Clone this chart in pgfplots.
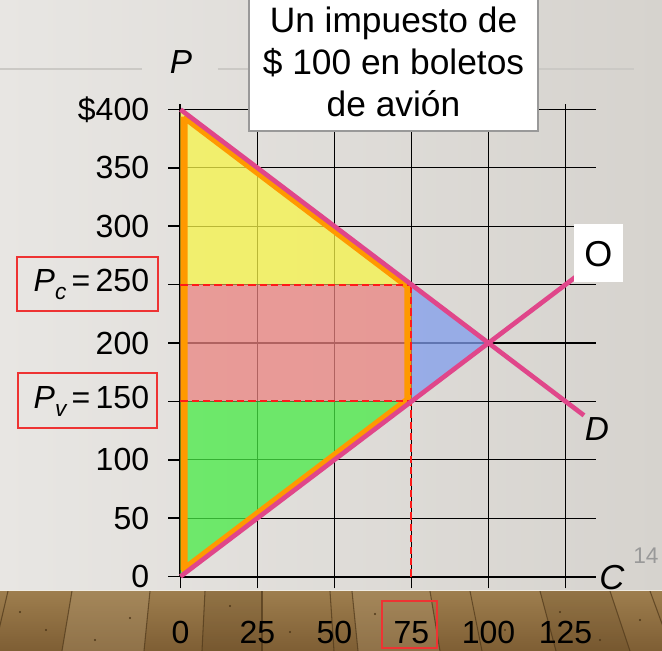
\documentclass[border=0pt]{standalone}
\usepackage{pgfplots}
\pgfplotsset{compat=1.18}
\usepackage{fontspec}
\setmainfont{Liberation Sans}
\definecolor{wallL}{HTML}{E8E6E3}
\definecolor{wallR}{HTML}{D6D3CE}
\definecolor{decoLine}{HTML}{CBC9C5}
\definecolor{yellowF}{HTML}{F7F549}
\definecolor{pinkF}{HTML}{EB8481}
\definecolor{greenF}{HTML}{47EB45}
\definecolor{blueF}{HTML}{819DED}
\definecolor{orangeC}{HTML}{FF9900}
\definecolor{pinkL}{HTML}{E0468A}
\definecolor{redD}{HTML}{FF1A1A}
\definecolor{boxRed}{HTML}{EE3333}
\definecolor{floorT}{HTML}{9E7E4E}
\definecolor{floorB}{HTML}{7E5E34}
\definecolor{floorD}{HTML}{4E3719}
\begin{document}
\begin{tikzpicture}
% background in pixel frame
\begin{scope}[x=0.75pt,y=-0.75pt,shift={(-135.375pt,432.375pt)}]
  \shade[left color=wallL,right color=wallR] (0,0) rectangle (662,591);
  \draw[decoLine, line width=1pt] (0,69) -- (142,69);
  \draw[decoLine, line width=1pt] (218,69) -- (634,69);
  \shade[top color=floorT,bottom color=floorB] (0,591) rectangle (662,651);
  \fill[floorT!80!white, opacity=0.35] (72,591) -- (150,591) -- (144,651) -- (62,651) -- cycle;
  \fill[floorT!80!white, opacity=0.35] (352,591) -- (430,591) -- (440,651) -- (358,651) -- cycle;
  \fill[floorD, opacity=0.15] (540,591) -- (610,591) -- (630,651) -- (556,651) -- cycle;
  \fill[floorD, opacity=0.15] (205,591) -- (262,591) -- (262,651) -- (202,651) -- cycle;
  \foreach \a/\b in {8/-6, 72/62, 150/144, 205/202, 262/262, 330/334, 352/358, 430/440, 470/482, 540/556, 610/630, 650/672}{
    \draw[floorD, line width=0.8pt, opacity=0.7] (\a,591) -- (\b,651);
  }
  \foreach \p in {(20,612),(46,630),(95,640),(130,618),(230,606),(290,632),(375,614),(505,630),(560,612),(600,640),(640,620)}{
    \fill[floorD] \p circle (1.2);
  }
  \draw[white!85!floorT, line width=1.2pt] (0,590.5) -- (662,590.5);
\end{scope}
\begin{axis}[
  at={(0,0)}, anchor=south west,
  x=2.31pt, y=0.8756pt,
  xmin=0, xmax=135, ymin=0, ymax=405,
  clip=false,
  axis lines=left,
  axis line style={-, line width=1.5pt, black},
  xtick={0,25,50,75,100,125},
  xticklabels={0,25,50,75,100,125},
  ytick={0,50,100,150,200,250,300,350,400},
  yticklabels={0,50,100,{{\itshape P}\raisebox{-0.45ex}{\fontsize{17}{17}\selectfont\itshape v}\,=\,150},200,{{\itshape P}\raisebox{-0.45ex}{\fontsize{17}{17}\selectfont\itshape c}\,=\,250},300,350,\$400},
  tick align=outside,
  major tick length=9pt,
  tick style={black, line width=1.2pt},
  grid=major,
  grid style={black, line width=0.9pt},
  tick label style={font=\fontsize{24}{28}\selectfont},
  yticklabel style={anchor=east, xshift=-11pt},
  xticklabel style={anchor=north, yshift=-21pt},
]
\addplot[fill=yellowF, fill opacity=0.75, draw=none] coordinates {(0,400) (75,250) (0,250) (0,400)};
\addplot[fill=pinkF, fill opacity=0.75, draw=none] coordinates {(0,150) (75,150) (75,250) (0,250) (0,150)};
\addplot[fill=greenF, fill opacity=0.75, draw=none] coordinates {(0,0) (75,150) (0,150) (0,0)};
\addplot[fill=blueF, fill opacity=0.75, draw=none] coordinates {(75,250) (100,200) (75,150) (75,250)};
\addplot[draw=orangeC, line width=5.25pt, line join=round] coordinates {(1.14,393.97) (73.86,248.5) (73.86,151.5) (1.14,6.03) (1.14,393.97)};
\addplot[draw=redD, line width=1.5pt, dash pattern=on 5.5pt off 3pt] coordinates {(0,250) (75,250)};
\addplot[draw=redD, line width=1.5pt, dash pattern=on 5.5pt off 3pt] coordinates {(0,150) (75,150)};
\addplot[draw=redD, line width=1.5pt, dash pattern=on 5.5pt off 3pt] coordinates {(75,0) (75,250)};
\addplot[draw=pinkL, line width=3.5pt] coordinates {(0,400) (131,138)};
\addplot[draw=pinkL, line width=3.5pt] coordinates {(0,0) (129,258)};
\end{axis}
% annotations in pixel frame
\begin{scope}[x=0.75pt,y=-0.75pt,shift={(-135.375pt,432.375pt)}]
  \draw[boxRed, line width=1pt] (17,257) rectangle (158,311);
  \draw[boxRed, line width=1pt] (18,373) rectangle (157,428);
  \draw[boxRed, line width=1pt] (382,601) rectangle (437,648);
  \draw[fill=white, draw=gray!80, line width=0.8pt] (249,-5) rectangle (538,131);
  \node[anchor=base, font=\fontsize{26.5}{30}\selectfont, inner sep=0pt] at (393.5,33) {Un impuesto de};
  \node[anchor=base, font=\fontsize{26.5}{30}\selectfont, inner sep=0pt] at (393.5,75) {\$ 100 en boletos};
  \node[anchor=base, font=\fontsize{26.5}{30}\selectfont, inner sep=0pt] at (393.5,117) {de avión};
  \fill[white] (574,224) rectangle (623,282);
  \node[font=\fontsize{27}{27}\selectfont, inner sep=0pt] at (598.5,254) {O};
  \node[font=\itshape\fontsize{25}{25}\selectfont, inner sep=0pt] at (597,429) {D};
  \node[font=\itshape\fontsize{25}{25}\selectfont, inner sep=0pt] at (181,62) {P};
  \node[font=\itshape\fontsize{26}{26}\selectfont, inner sep=0pt] at (612,578) {C};
  \node[font=\fontsize{17}{17}\selectfont, text=gray!80, inner sep=0pt] at (646,556) {14};
  \pgfresetboundingbox
  \path[use as bounding box] (0,0) rectangle (662,651);
\end{scope}
\end{tikzpicture}
\end{document}
